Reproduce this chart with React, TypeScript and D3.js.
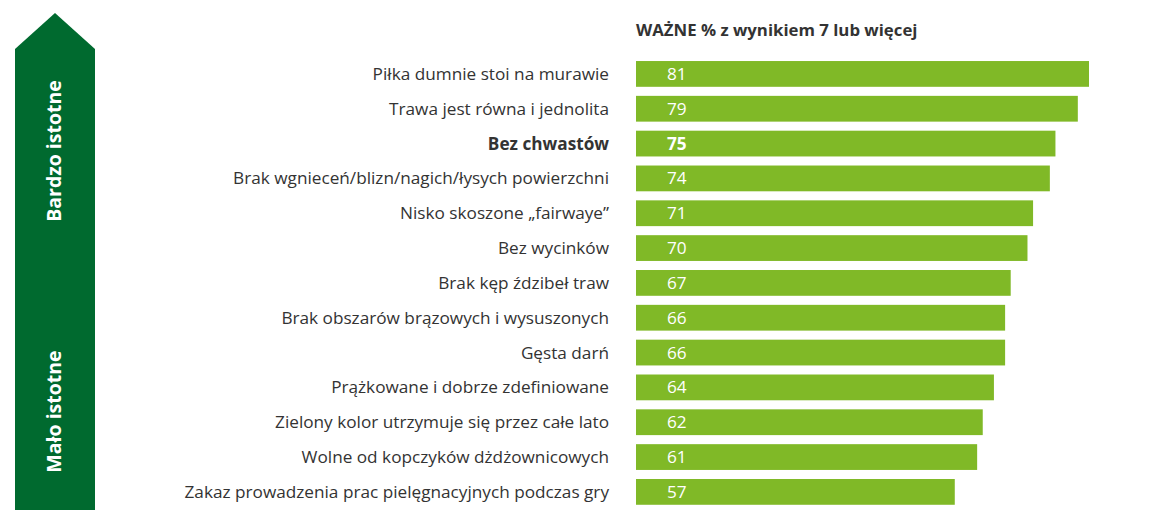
import * as d3 from "d3";

const categories = [
  "Piłka dumnie stoi na murawie",
  "Trawa jest równa i jednolita",
  "Bez chwastów",
  "Brak wgnieceń/blizn/nagich/łysych powierzchni",
  "Nisko skoszone „fairwaye”",
  "Bez wycinków",
  "Brak kęp ździbeł traw",
  "Brak obszarów brązowych i wysuszonych",
  "Gęsta darń",
  "Prążkowane i dobrze zdefiniowane",
  "Zielony kolor utrzymuje się przez całe lato",
  "Wolne od kopczyków dżdżownicowych",
  "Zakaz prowadzenia prac pielęgnacyjnych podczas gry",
];
const values = [81, 79, 75, 74, 71, 70, 67, 66, 66, 64, 62, 61, 57];
const boldCategories = ["Bez chwastów"];
const title = "WAŻNE % z wynikiem 7 lub więcej";
const arrowLabels = ["Bardzo istotne", "Mało istotne"];

const W = 1156;
const H = 520;
const font = "'Open Sans', sans-serif";

export default function App() {
  const x = d3.scaleLinear().domain([0, 81]).range([636, 1089]);
  const y = d3
    .scaleBand<string>()
    .domain(categories)
    .range([56.5, 509.3])
    .paddingInner(0.26)
    .paddingOuter(0.13);

  const arrow = d3.path();
  arrow.moveTo(15, 510);
  arrow.lineTo(15, 49);
  arrow.lineTo(55, 13);
  arrow.lineTo(95, 49);
  arrow.lineTo(95, 510);
  arrow.closePath();

  return (
    <svg
      width={W}
      height={H}
      style={{ position: "absolute", left: 0, top: 0 }}
      fontFamily={font}
    >
      <path d={arrow.toString()} fill="#006a2f" />
      <text
        transform="translate(54,151) rotate(-90)"
        textAnchor="middle"
        dy="0.35em"
        fill="#fff"
        fontSize={19.5}
        fontWeight="bold"
      >
        {arrowLabels[0]}
      </text>
      <text
        transform="translate(54,411.5) rotate(-90)"
        textAnchor="middle"
        dy="0.35em"
        fill="#fff"
        fontSize={19.5}
        fontWeight="bold"
      >
        {arrowLabels[1]}
      </text>

      <text x={636} y={36} fontSize={16.8} fontWeight="bold" fill="#333">
        {title}
      </text>

      {categories.map((c, i) => {
        const bold = boldCategories.includes(c);
        const yc = (y(c) ?? 0) + y.bandwidth() / 2;
        return (
          <g key={c}>
            <rect
              x={x(0)}
              y={y(c)}
              width={x(values[i]) - x(0)}
              height={y.bandwidth()}
              fill="#80b927"
            />
            <text
              x={609}
              y={yc}
              dy="0.35em"
              textAnchor="end"
              fontSize={17.2}
              fontWeight={bold ? "bold" : "normal"}
              fill="#333"
            >
              {c}
            </text>
            <text
              x={667}
              y={yc}
              dy="0.35em"
              fontSize={17.2}
              fontWeight={bold ? "bold" : "normal"}
              fill="#fff"
            >
              {values[i]}
            </text>
          </g>
        );
      })}
    </svg>
  );
}
